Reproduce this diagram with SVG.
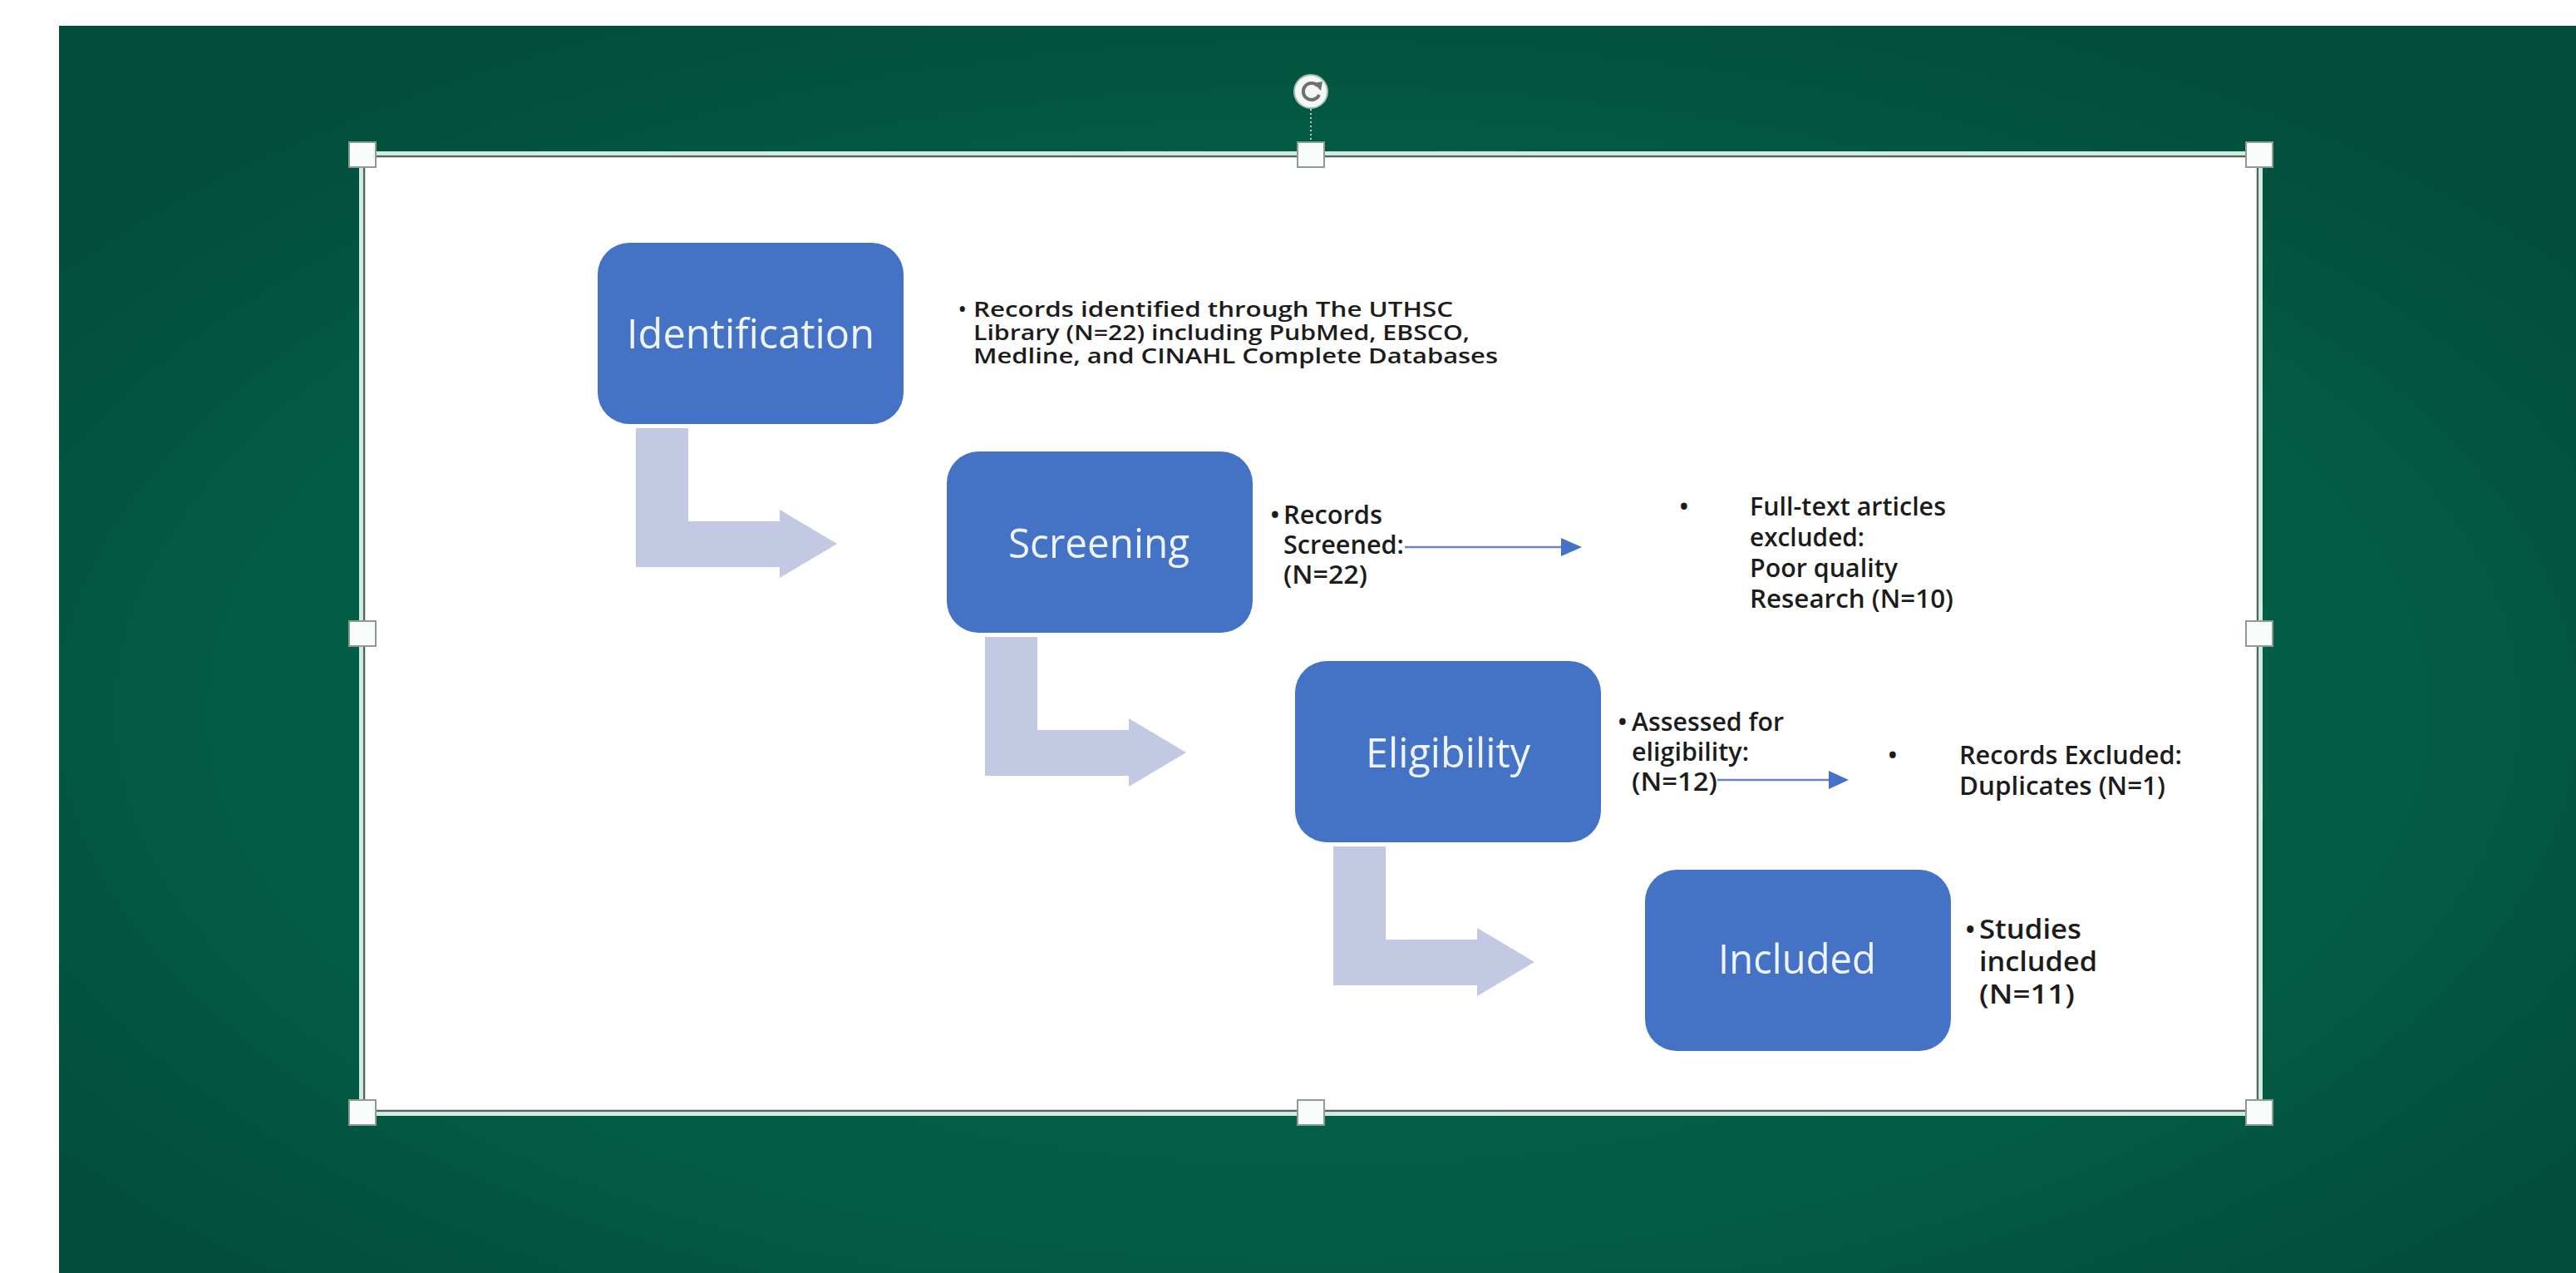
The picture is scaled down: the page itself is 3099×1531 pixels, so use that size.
<svg xmlns="http://www.w3.org/2000/svg" width="3099" height="1531" viewBox="0 0 3099 1531">
  <defs>
    <radialGradient id="bgGreen" cx="50%" cy="55%" r="62%">
      <stop offset="0" stop-color="#066a4d"/>
      <stop offset="0.7" stop-color="#035c44"/>
      <stop offset="1" stop-color="#024e3b"/>
    </radialGradient>
    <style>
      .step { fill: #4472c4; }
      .step-label { font-family: "Open Sans", "Liberation Sans", sans-serif; font-size: 50px; font-weight: 500; fill: #eef3ff; text-anchor: middle; }
      .note { font-family: "Open Sans", "Liberation Sans", sans-serif; fill: #1c1c1c; font-weight: 600; }
      .note-s { font-size: 25px; }
      .note-m { font-size: 31px; }
      .note-l { font-size: 33px; }
      .bent { fill: #c3c9e3; }
      .thin { stroke: #6d84b9; stroke-width: 2.5; fill: none; }
      .tip { fill: #4472c4; }
      .handle { fill: #f7fbfa; stroke: #8d9a96; stroke-width: 2; }
    </style>
  </defs>

  <!-- page background -->
  <rect x="0" y="0" width="3099" height="1531" fill="#ffffff"/>
  <rect x="71" y="31" width="3028" height="1500" fill="url(#bgGreen)"/>

  <!-- selected picture frame -->
  <rect x="436" y="186" width="2282" height="1152" fill="#ffffff"/>
  <rect x="434" y="184" width="2286" height="1156" fill="none" stroke="#cdeee2" stroke-width="4"/>
  <rect x="438" y="188" width="2278" height="1148" fill="none" stroke="#57625f" stroke-width="2.5"/>

  <!-- rotation handle -->
  <line x1="1577" y1="131" x2="1577" y2="173" stroke="#a7d2c3" stroke-width="2" stroke-dasharray="2 3"/>
  <circle cx="1577" cy="110" r="20" fill="#f2f8f6" stroke="#a9bdb6" stroke-width="2"/>
  <path d="M1585 103 A10 10 0 1 0 1587 114" fill="none" stroke="#6f6f6f" stroke-width="4"/>
  <polygon points="1580,100 1591,98 1589,109" fill="#6f6f6f"/>

  <!-- resize handles -->
  <g id="handles">
    <rect class="handle" x="420" y="171" width="32" height="30"/>
    <rect class="handle" x="1561" y="171" width="32" height="30"/>
    <rect class="handle" x="2702" y="171" width="32" height="30"/>
    <rect class="handle" x="420" y="747" width="32" height="30"/>
    <rect class="handle" x="2702" y="747" width="32" height="30"/>
    <rect class="handle" x="420" y="1323" width="32" height="30"/>
    <rect class="handle" x="1561" y="1323" width="32" height="30"/>
    <rect class="handle" x="2702" y="1323" width="32" height="30"/>
  </g>

  <!-- connectors -->
  <g id="connectors">
    <!-- bent arrows between stages -->
    <path class="bent" d="M765 515 H828 V627 H938 V613 L1007 654 L938 695 V682 H765 Z"/>
    <path class="bent" d="M1185 766 H1248 V878 H1358 V864 L1427 905 L1358 946 V933 H1185 Z"/>
    <path class="bent" d="M1604 1018 H1667 V1130 H1777 V1116 L1846 1157 L1777 1198 V1185 H1604 Z"/>
    <!-- exclusion arrows -->
    <line class="thin" x1="1690" y1="658" x2="1882" y2="658"/>
    <polygon class="tip" points="1878,647 1903,658 1878,669"/>
    <line class="thin" x1="2066" y1="938" x2="2204" y2="938"/>
    <polygon class="tip" points="2200,927 2224,938 2200,949"/>
  </g>

  <!-- stage: Identification -->
  <g id="identification">
    <rect class="step" x="719" y="292" width="368" height="218" rx="38"/>
    <text class="step-label" x="903" y="419" textLength="298" lengthAdjust="spacingAndGlyphs">Identification</text>
    <text class="note note-s" x="1153" y="381">•</text>
    <text class="note note-s" x="1171" y="381" textLength="577" lengthAdjust="spacingAndGlyphs">Records identified through The UTHSC</text>
    <text class="note note-s" x="1171" y="409" textLength="597" lengthAdjust="spacingAndGlyphs">Library (N=22) including PubMed, EBSCO,</text>
    <text class="note note-s" x="1171" y="437" textLength="631" lengthAdjust="spacingAndGlyphs">Medline, and CINAHL Complete Databases</text>
  </g>

  <!-- stage: Screening -->
  <g id="screening">
    <rect class="step" x="1139" y="543" width="368" height="218" rx="38"/>
    <text class="step-label" x="1322" y="671" textLength="218" lengthAdjust="spacingAndGlyphs">Screening</text>
    <text class="note note-m" x="1528" y="630">•</text>
    <text class="note note-m" x="1544" y="630" textLength="119" lengthAdjust="spacingAndGlyphs">Records</text>
    <text class="note note-m" x="1544" y="666" textLength="145" lengthAdjust="spacingAndGlyphs">Screened:</text>
    <text class="note note-m" x="1544" y="702" textLength="101" lengthAdjust="spacingAndGlyphs">(N=22)</text>
  </g>

  <!-- exclusion: full-text -->
  <g id="excluded-fulltext">
    <text class="note note-m" x="2020" y="620">•</text>
    <text class="note note-m" x="2105" y="620" textLength="236" lengthAdjust="spacingAndGlyphs">Full-text articles</text>
    <text class="note note-m" x="2105" y="657" textLength="138" lengthAdjust="spacingAndGlyphs">excluded:</text>
    <text class="note note-m" x="2105" y="694" textLength="178" lengthAdjust="spacingAndGlyphs">Poor quality</text>
    <text class="note note-m" x="2105" y="731" textLength="245" lengthAdjust="spacingAndGlyphs">Research (N=10)</text>
  </g>

  <!-- stage: Eligibility -->
  <g id="eligibility">
    <rect class="step" x="1558" y="795" width="368" height="218" rx="38"/>
    <text class="step-label" x="1742" y="923" textLength="198" lengthAdjust="spacingAndGlyphs">Eligibility</text>
    <text class="note note-m" x="1946" y="879">•</text>
    <text class="note note-m" x="1963" y="879" textLength="183" lengthAdjust="spacingAndGlyphs">Assessed for</text>
    <text class="note note-m" x="1963" y="915" textLength="141" lengthAdjust="spacingAndGlyphs">eligibility:</text>
    <text class="note note-m" x="1963" y="951" textLength="103" lengthAdjust="spacingAndGlyphs">(N=12)</text>
  </g>

  <!-- exclusion: duplicates -->
  <g id="excluded-duplicates">
    <text class="note note-m" x="2271" y="919">•</text>
    <text class="note note-m" x="2357" y="919" textLength="268" lengthAdjust="spacingAndGlyphs">Records Excluded:</text>
    <text class="note note-m" x="2357" y="956" textLength="248" lengthAdjust="spacingAndGlyphs">Duplicates (N=1)</text>
  </g>

  <!-- stage: Included -->
  <g id="included">
    <rect class="step" x="1979" y="1046" width="368" height="218" rx="38"/>
    <text class="step-label" x="2162" y="1171" textLength="190" lengthAdjust="spacingAndGlyphs">Included</text>
    <text class="note note-l" x="2364" y="1129">•</text>
    <text class="note note-l" x="2381" y="1129" textLength="123" lengthAdjust="spacingAndGlyphs">Studies</text>
    <text class="note note-l" x="2381" y="1168" textLength="142" lengthAdjust="spacingAndGlyphs">included</text>
    <text class="note note-l" x="2381" y="1207" textLength="115" lengthAdjust="spacingAndGlyphs">(N=11)</text>
  </g>
</svg>
